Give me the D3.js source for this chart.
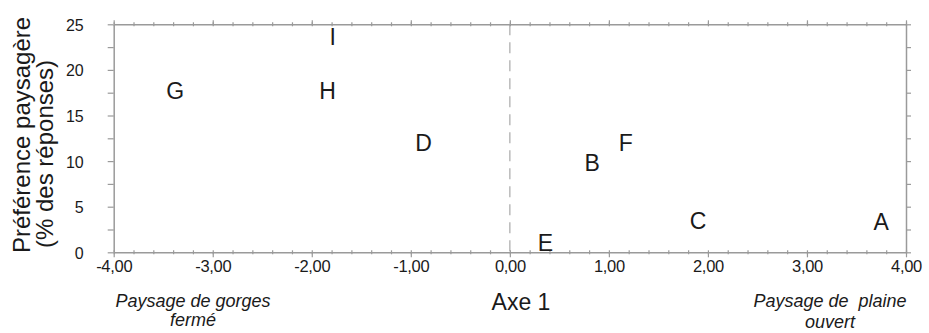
<!DOCTYPE html>
<html><head><meta charset="utf-8">
<script src="https://cdn.jsdelivr.net/npm/d3@7"></script>
<style>
html,body{margin:0;padding:0;background:#fff;}
svg{display:block;font-family:"Liberation Sans",Arial,sans-serif;}
</style></head>
<body>
<svg id="chart" width="929" height="333"></svg>
<script>
// Data
const labels = ["A","B","C","D","E","F","G","H","I"];
const axe1 = [3.75, 0.83, 1.90, -0.87, 0.36, 1.17, -3.38, -1.84, -1.79];
const preference = [3.4, 9.8, 3.5, 12.0, 1.0, 12.0, 17.7, 17.7, 23.6];
const xTickValues = [-4, -3, -2, -1, 0, 1, 2, 3, 4];
const yTickValues = [0, 5, 10, 15, 20, 25];
const yTitleLines = ["Préférence paysagère", "(% des réponses)"];
const xTitle = "Axe 1";
const leftNote = ["Paysage de gorges", "fermé"];
const rightNote = ["Paysage de  plaine", "ouvert"];

const svg = d3.select("#chart");
const L = 113.7, R = 906, T = 24.3, B = 252.3;
const x = d3.scaleLinear().domain([-4, 4]).range([L, R]);
const y = d3.scaleLinear().domain([0, 25]).range([B, T]);
const axisColor = "#9a9a9a";
const fmt = d => d3.format(".2f")(d).replace(".", ",").replace("−","-");

const xMinor = d3.range(-4, 4.001, 0.2).map(v => Math.round(v*10)/10);
const yMinor = d3.range(0, 25.001, 2.5);

// dashed zero line
svg.append("line")
  .attr("x1", x(0)).attr("x2", x(0)).attr("y1", T).attr("y2", B)
  .attr("stroke", "#b0b0b0").attr("stroke-width", 1.3)
  .attr("stroke-dasharray", "11,7");

function styleAxis(g){
  g.select(".domain").attr("stroke", axisColor).attr("stroke-width", 1.5);
  g.selectAll(".tick line").attr("stroke", axisColor).attr("stroke-width", 1.2);
}

// bottom axis: minor ticks crossing
const gb = svg.append("g").attr("transform", `translate(0,${B-2})`)
  .call(d3.axisBottom(x).tickValues(xMinor).tickSizeInner(4).tickSizeOuter(0).tickFormat(""));
gb.select(".domain").remove();
gb.selectAll(".tick line").attr("stroke", axisColor).attr("stroke-width", 1.2);
const gb2 = svg.append("g").attr("transform", `translate(0,${B})`)
  .call(d3.axisBottom(x).tickValues(xTickValues).tickSizeInner(5).tickSizeOuter(0).tickFormat(fmt));
styleAxis(gb2);
gb2.selectAll(".tick text").attr("y", 0).attr("dy", "19.5px")
  .attr("font-size", "16.5px").attr("fill", "#1a1a1a").attr("font-family", "Liberation Sans, Arial, sans-serif")
  .attr("letter-spacing", "-0.3px");

// top axis
const gt = svg.append("g").attr("transform", `translate(0,${T+2})`)
  .call(d3.axisTop(x).tickValues(xMinor).tickSizeInner(4).tickSizeOuter(0).tickFormat(""));
gt.select(".domain").remove();
gt.selectAll(".tick line").attr("stroke", axisColor).attr("stroke-width", 1.2);
const gt2 = svg.append("g").attr("transform", `translate(0,${T})`)
  .call(d3.axisTop(x).tickValues(xTickValues).tickSizeInner(4).tickSizeOuter(0).tickFormat(""));
styleAxis(gt2);

// left axis
const gl = svg.append("g").attr("transform", `translate(${L},0)`)
  .call(d3.axisLeft(y).tickValues(yMinor).tickSizeInner(6).tickSizeOuter(0).tickFormat(""));
styleAxis(gl);
const gl2 = svg.append("g").attr("transform", `translate(${L},0)`)
  .call(d3.axisLeft(y).tickValues(yTickValues).tickSize(0).tickFormat(d3.format("d")));
gl2.select(".domain").remove();
gl2.selectAll(".tick text").attr("x", -30).attr("dy", "0.38em")
  .attr("font-size", "16px").attr("fill", "#1a1a1a").attr("font-family", "Liberation Sans, Arial, sans-serif");

// right axis
const gr = svg.append("g").attr("transform", `translate(${R},0)`)
  .call(d3.axisRight(y).tickValues(yMinor).tickSizeInner(5).tickSizeOuter(0).tickFormat(""));
styleAxis(gr);

// point labels
svg.append("g").selectAll("text").data(labels).join("text")
  .attr("x", (d,i) => x(axe1[i]))
  .attr("y", (d,i) => y(preference[i]))
  .attr("dy", "0.36em")
  .attr("text-anchor", "middle")
  .attr("font-size", "23px")
  .attr("fill", "#1a1a1a")
  .text(d => d);

// y title
const yt = svg.append("g");
yt.append("text").attr("transform", "translate(30,253) rotate(-90)")
  .attr("font-size", "24px").attr("fill", "#1a1a1a").text(yTitleLines[0]);
yt.append("text").attr("transform", "translate(52.5,248) rotate(-90)")
  .attr("font-size", "24px").attr("fill", "#1a1a1a").text(yTitleLines[1]);

// x title
svg.append("text").attr("x", 521).attr("y", 310).attr("text-anchor", "middle")
  .attr("font-size", "23px").attr("fill", "#1a1a1a").text(xTitle);

// notes
function note(lines, cx, y0, y1){
  const t = svg.append("g").attr("font-style", "italic").attr("font-size", "18px").attr("fill", "#1a1a1a")
    .attr("text-anchor", "middle").style("white-space", "pre");
  t.append("text").attr("x", cx).attr("y", y0).attr("xml:space", "preserve").text(lines[0]);
  t.append("text").attr("x", cx).attr("y", y1).text(lines[1]);
}
note(leftNote, 193, 306.5, 325.5);
note(rightNote, 830, 306.5, 327.5);
</script>
</body></html>
